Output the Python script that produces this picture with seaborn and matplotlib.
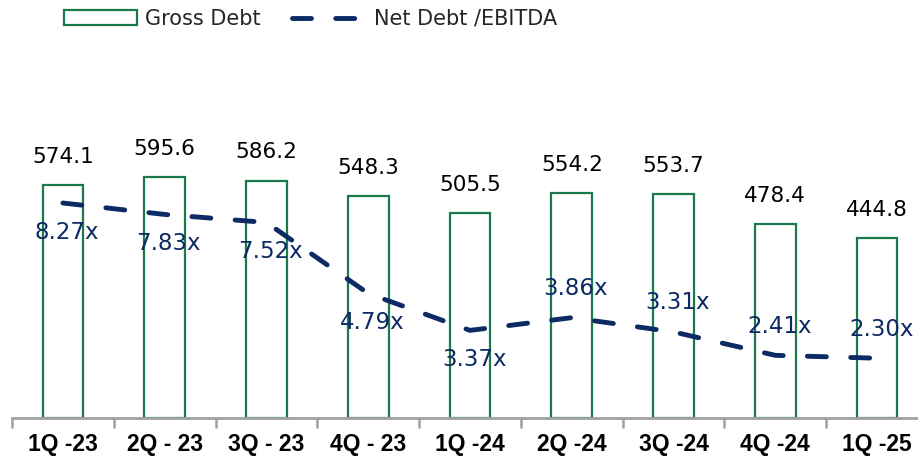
import matplotlib
matplotlib.use("Agg")
import matplotlib.pyplot as plt
from matplotlib.patches import Patch
from matplotlib.lines import Line2D
import numpy as np
import seaborn as sns

quarters = ["1Q -23", "2Q - 23", "3Q - 23", "4Q - 23", "1Q -24",
            "2Q -24", "3Q -24", "4Q -24", "1Q -25"]
gross_debt = [574.1, 595.6, 586.2, 548.3, 505.5, 554.2, 553.7, 478.4, 444.8]
net_debt_ebitda = [8.27, 7.83, 7.52, 4.79, 3.37, 3.86, 3.31, 2.41, 2.30]
ratio_label_below = [True, True, True, True, True, False, False, False, False]

GREEN = "#1b7a4b"
NAVY = "#0c2a63"
AXIS_GREY = "#a0a0a0"

sns.set_style("white")
plt.rcParams["font.family"] = ["DejaVu Sans"]

fig = plt.figure(figsize=(9.18, 4.65), dpi=100)
ax = fig.add_axes([12 / 918, 47 / 465, 916 / 918, 378 / 465])

sns.barplot(x=quarters, y=gross_debt, ax=ax, fill=False, color=GREEN,
            width=0.4, linewidth=1.6, errorbar=None)
for patch in ax.patches:
    patch.set_edgecolor(GREEN)

ax.set_xlim(-0.5, len(quarters) - 0.5)
ax.set_ylim(0, 933)
ax.set_yticks([])
for side in ("top", "right", "left"):
    ax.spines[side].set_visible(False)
ax.spines["bottom"].set_color(AXIS_GREY)
ax.spines["bottom"].set_linewidth(2)
ax.set_xticks(np.arange(len(quarters)) - 0.5, minor=True)
ax.tick_params(axis="x", which="minor", length=7, width=1.8, color=AXIS_GREY,
               direction="out", bottom=True)
ax.tick_params(axis="x", which="major", length=0, pad=11)
ax.set_xticks(np.arange(len(quarters)))
ax.set_xticklabels(quarters, fontsize=16.5, fontweight="bold",
                   family=["Liberation Sans", "DejaVu Sans"], color="black")
ax.set_xlabel("")

for i, v in enumerate(gross_debt):
    ax.annotate(f"{v:.1f}", (i, v), xytext=(0, 13), textcoords="offset points",
                ha="center", va="bottom", fontsize=15.5, color="black")

ax2 = ax.twinx()
xpos = np.arange(len(quarters))
sns.lineplot(x=xpos, y=net_debt_ebitda, ax=ax2, color=NAVY, linewidth=3.5,
             legend=False)
line = ax2.lines[0]
line.set_linestyle((0, (3.9, 5.0)))
line.set_dash_capstyle("round")
ax2.set_ylim(0, 14.54)
ax2.set_xlim(-0.5, len(quarters) - 0.5)
ax2.set_yticks([])
for side in ("top", "right", "left", "bottom"):
    ax2.spines[side].set_visible(False)

for i, (v, below) in enumerate(zip(net_debt_ebitda, ratio_label_below)):
    dy = -21 if below else 21
    ax2.annotate(f"{v:.2f}x", (i, v), xytext=(3, dy), textcoords="offset points",
                 ha="center", va="center", fontsize=16.5, color=NAVY)

handles = [
    Patch(facecolor="white", edgecolor=GREEN, linewidth=1.6, label="Gross Debt"),
    Line2D([0], [0], color=NAVY, linewidth=3.5, linestyle=(0, (3.9, 5.0)),
           dash_capstyle="round", label="Net Debt /EBITDA"),
]
fig.legend(handles=handles, loc="upper left", bbox_to_anchor=(60 / 918, 0.99),
           ncol=2, frameon=False, fontsize=15, handlelength=3.5,
           handletextpad=0.4, columnspacing=1.5, borderpad=0.2, borderaxespad=0)

fig.savefig("out.png", dpi=100)
